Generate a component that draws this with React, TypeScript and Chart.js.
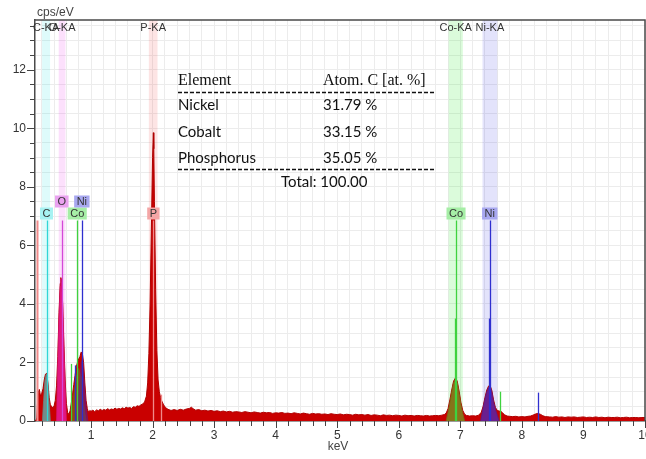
import React, { useEffect, useRef } from "react";
import { Chart, registerables } from "chart.js";
Chart.register(...registerables);

// ---------- spectrum (keV, cps/eV) ----------
const spectrumKeV = [
  0.10, 0.12, 0.13, 0.14, 0.16, 0.18, 0.20, 0.22, 0.24, 0.26, 0.28, 0.30, 0.32, 0.34, 0.36, 0.38, 0.40,
  0.42, 0.44, 0.46, 0.48, 0.50, 0.51, 0.52, 0.54, 0.56, 0.58, 0.60, 0.62, 0.64, 0.66, 0.68, 0.70,
  0.72, 0.74, 0.76, 0.78, 0.80, 0.82, 0.84, 0.86, 0.88, 0.90, 0.92, 0.94, 0.96, 0.98,
  1.00, 1.03, 1.06, 1.09, 1.12, 1.15, 1.18, 1.21, 1.24, 1.27, 1.30, 1.33, 1.36, 1.39, 1.42, 1.45,
  1.48, 1.51, 1.54, 1.57, 1.60, 1.63, 1.66, 1.69, 1.72, 1.75, 1.78, 1.81, 1.84, 1.87, 1.90, 1.92,
  1.94, 1.96, 1.98, 2.00, 2.013, 2.02, 2.03, 2.05, 2.07, 2.09, 2.11, 2.13, 2.15, 2.18, 2.21, 2.25,
  2.30, 2.35, 2.40, 2.45, 2.50, 2.55, 2.60, 2.63, 2.66, 2.70, 2.75, 2.80, 2.85, 2.90, 2.95, 3.00,
  3.05, 3.10, 3.15, 3.20, 3.25, 3.30, 3.35, 3.40, 3.45, 3.50, 3.55, 3.60, 3.65, 3.70, 3.75, 3.80,
  3.85, 3.90, 3.95, 4.00, 4.05, 4.10, 4.15, 4.20, 4.25, 4.30, 4.35, 4.40, 4.45, 4.50, 4.55, 4.60,
  4.65, 4.70, 4.75, 4.80, 4.85, 4.90, 4.95, 5.00, 5.05, 5.10, 5.15, 5.20, 5.25, 5.30, 5.35, 5.40,
  5.45, 5.50, 5.55, 5.60, 5.65, 5.70, 5.75, 5.80, 5.85, 5.90, 5.95, 6.00, 6.05, 6.10, 6.15, 6.20,
  6.25, 6.30, 6.35, 6.40, 6.45, 6.50, 6.55, 6.60, 6.65, 6.70, 6.74, 6.77, 6.80, 6.83, 6.86, 6.89,
  6.92, 6.95, 6.98, 7.01, 7.04, 7.07, 7.10, 7.15, 7.20, 7.25, 7.30, 7.34, 7.37, 7.40, 7.43, 7.46,
  7.48, 7.51, 7.54, 7.57, 7.60, 7.63, 7.66, 7.69, 7.72, 7.76, 7.80, 7.85, 7.90, 7.95, 8.00, 8.05,
  8.10, 8.14, 8.18, 8.22, 8.26, 8.30, 8.34, 8.38, 8.45, 8.50, 8.55, 8.60, 8.65, 8.70, 8.75, 8.80,
  8.85, 8.90, 8.95, 9.00, 9.05, 9.10, 9.15, 9.20, 9.25, 9.30, 9.35, 9.40, 9.45, 9.50, 9.55, 9.60,
  9.65, 9.70, 9.75, 9.80, 9.85, 9.90, 9.95, 10.00,
];
const spectrumCps = [
  0.00, 0.10, 0.60, 0.95, 1.08, 0.85, 0.95, 1.10, 1.40, 1.60, 1.63, 1.30, 0.80, 0.55, 0.50, 0.44, 0.52,
  0.70, 1.20, 2.20, 3.70, 4.70, 4.90, 4.80, 4.00, 2.60, 1.40, 0.60, 0.30, 0.22, 0.35, 0.62, 0.92,
  1.25, 1.55, 1.85, 2.00, 2.12, 2.20, 2.36, 2.30, 2.00, 1.30, 0.70, 0.42, 0.30, 0.36,
  0.33, 0.37, 0.32, 0.38, 0.35, 0.40, 0.36, 0.39, 0.37, 0.42, 0.38, 0.41, 0.39, 0.44, 0.40, 0.43,
  0.41, 0.45, 0.42, 0.47, 0.44, 0.46, 0.43, 0.49, 0.47, 0.52, 0.50, 0.55, 0.58, 0.65, 0.85, 1.30,
  2.30, 4.00, 6.50, 9.00, 9.85, 9.30, 7.50, 4.50, 2.40, 1.40, 1.00, 0.80, 0.68, 0.55, 0.46, 0.40,
  0.36, 0.39, 0.36, 0.40, 0.37, 0.41, 0.43, 0.47, 0.42, 0.37, 0.39, 0.35, 0.37, 0.34, 0.36, 0.33,
  0.35, 0.32, 0.34, 0.31, 0.33, 0.30, 0.32, 0.31, 0.29, 0.32, 0.30, 0.28, 0.31, 0.29, 0.27, 0.30,
  0.28, 0.29, 0.26, 0.28, 0.27, 0.29, 0.26, 0.27, 0.25, 0.28, 0.26, 0.24, 0.27, 0.25, 0.23, 0.26,
  0.24, 0.25, 0.23, 0.24, 0.22, 0.25, 0.23, 0.22, 0.24, 0.21, 0.23, 0.22, 0.20, 0.23, 0.21, 0.22,
  0.20, 0.22, 0.19, 0.21, 0.20, 0.18, 0.21, 0.19, 0.20, 0.18, 0.20, 0.19, 0.17, 0.20, 0.18, 0.19,
  0.17, 0.19, 0.18, 0.17, 0.19, 0.17, 0.18, 0.19, 0.18, 0.20, 0.22, 0.27, 0.42, 0.72, 1.06, 1.36,
  1.47, 1.36, 1.02, 0.62, 0.36, 0.23, 0.19, 0.17, 0.18, 0.17, 0.20, 0.30, 0.50, 0.80, 1.06, 1.20,
  1.23, 1.06, 0.72, 0.46, 0.36, 0.34, 0.33, 0.27, 0.21, 0.17, 0.16, 0.15, 0.16, 0.14, 0.15, 0.14,
  0.16, 0.17, 0.20, 0.24, 0.26, 0.23, 0.18, 0.15, 0.14, 0.13, 0.15, 0.13, 0.14, 0.12, 0.14, 0.13,
  0.14, 0.12, 0.13, 0.14, 0.12, 0.13, 0.12, 0.14, 0.12, 0.13, 0.11, 0.13, 0.12, 0.12, 0.13, 0.11,
  0.12, 0.13, 0.11, 0.12, 0.12, 0.11, 0.12, 0.12,
];

// ---------- element contributions (deconvolved peaks) ----------
const cPeakKeV = [0.21, 0.23, 0.25, 0.27, 0.28, 0.30, 0.32, 0.34];
const cPeakCps = [0.0, 0.7, 1.35, 1.58, 1.60, 1.22, 0.60, 0.0];
const oPeakKeV = [0.44, 0.46, 0.48, 0.50, 0.51, 0.52, 0.54, 0.56, 0.58, 0.60];
const oPeakCps = [0.0, 1.9, 3.5, 4.6, 4.85, 4.75, 3.9, 2.4, 1.2, 0.0];
const coLKeV = [0.68, 0.72, 0.76, 0.80, 0.84, 0.88, 0.92];
const coLCps = [0.0, 0.9, 1.5, 1.8, 1.5, 0.6, 0.0];
const niLKeV = [0.76, 0.80, 0.84, 0.86, 0.88, 0.92, 0.95];
const niLCps = [0.0, 0.9, 2.0, 2.1, 1.6, 0.5, 0.0];
const coKaKeV = [6.77, 6.80, 6.83, 6.86, 6.89, 6.92, 6.95, 6.98, 7.01, 7.04, 7.07];
const coKaCps = [0.0, 0.3, 0.62, 1.0, 1.3, 1.42, 1.3, 0.95, 0.55, 0.25, 0.0];
const niKaKeV = [7.33, 7.37, 7.40, 7.43, 7.46, 7.48, 7.51, 7.54, 7.57, 7.60, 7.63];
const niKaCps = [0.0, 0.45, 0.75, 1.0, 1.15, 1.18, 1.0, 0.65, 0.4, 0.2, 0.0];

// ---------- element marker lines ----------
const markerKeV = [0.12, 0.277, 0.525, 0.678, 0.743, 0.776, 0.851, 2.013, 2.139, 6.915, 6.930, 7.649, 7.461, 7.478, 8.265];
const markerHeight = [6.85, 6.85, 6.85, 1.95, 1.9, 6.85, 6.85, 6.85, 0.9, 3.5, 6.85, 1.0, 3.5, 6.85, 0.97];
const markerElement = ["P", "C", "O", "Co", "Ni", "Co", "Ni", "P", "P", "Co", "Co", "Co", "Ni", "Ni", "Ni"];
const markerLabel = ["", "C", "O", "", "", "Co", "Ni", "P", "", "", "Co", "", "", "Ni", ""];
const markerRow = [0, 0, 1, 0, 0, 0, 1, 0, 0, 0, 0, 0, 0, 0, 0];

// ---------- ROI bands ----------
const bandNames = ["C-KA", "O-KA", "P-KA", "Co-KA", "Ni-KA"];
const bandElement = ["C", "O", "P", "Co", "Ni"];
const bandLo = [0.205, 0.475, 1.94, 6.81, 7.36];
const bandHi = [0.335, 0.585, 2.08, 7.04, 7.60];

// ---------- quantification table ----------
const tableHeader = ["Element", "Atom. C [at. %]"];
const tableElements = ["Nickel", "Cobalt", "Phosphorus"];
const tableAtomPct = ["31.79 %", "33.15 %", "35.05 %"];
const tableTotal = "Total: 100.00";

const lineColor: Record<string, string> = { C: "#2fd6d6", O: "#d448d8", P: "#f08a8a", Co: "#3fd23f", Ni: "#2f2fcf" };
const boxColor: Record<string, string> = { C: "#a6f2f2", O: "#eaa2f0", P: "#f4a6a6", Co: "#a6eea6", Ni: "#a8a8f0" };
const bandColor: Record<string, string> = {
  C: "rgba(0,225,225,0.13)",
  O: "rgba(230,0,230,0.12)",
  P: "rgba(240,50,50,0.13)",
  Co: "rgba(40,230,40,0.17)",
  Ni: "rgba(70,70,230,0.15)",
};

const SANS = '"Liberation Sans", Arial, sans-serif';

const pts = (xs: number[], ys: number[]) => xs.map((v, i) => ({ x: v, y: ys[i] }));

const edsPlugin = {
  id: "eds",
  beforeDatasetsDraw(chart: any) {
    const { ctx, chartArea: a, scales } = chart;
    const x = scales.x;
    ctx.save();
    ctx.beginPath();
    ctx.rect(a.left, a.top, a.right - a.left, a.bottom - a.top);
    ctx.clip();
    bandNames.forEach((_, i) => {
      const l = x.getPixelForValue(bandLo[i]);
      const r = x.getPixelForValue(bandHi[i]);
      ctx.fillStyle = bandColor[bandElement[i]];
      ctx.fillRect(l, a.top, r - l, a.bottom - a.top);
    });
    ctx.restore();
  },
  afterDatasetsDraw(chart: any) {
    const { ctx, chartArea: a, scales } = chart;
    const x = scales.x;
    const y = scales.y;
    ctx.save();
    ctx.beginPath();
    ctx.rect(a.left, a.top, a.right - a.left, a.bottom - a.top);
    ctx.clip();
    const y0 = y.getPixelForValue(0);
    markerKeV.forEach((k, i) => {
      const px = Math.round(x.getPixelForValue(k)) + 0.5;
      ctx.strokeStyle = lineColor[markerElement[i]];
      ctx.lineWidth = i === 0 ? 2 : 1.3;
      ctx.beginPath();
      ctx.moveTo(px, y0);
      ctx.lineTo(px, y.getPixelForValue(markerHeight[i]));
      ctx.stroke();
    });
    ctx.font = `11px ${SANS}`;
    ctx.textAlign = "center";
    ctx.textBaseline = "middle";
    markerKeV.forEach((k, i) => {
      const lab = markerLabel[i];
      if (!lab) return;
      const px = x.getPixelForValue(k);
      const top = y.getPixelForValue(markerHeight[i]);
      const h = 12;
      const bottom = top - 1 - markerRow[i] * h;
      const w = ctx.measureText(lab).width + 5;
      ctx.fillStyle = boxColor[markerElement[i]];
      ctx.fillRect(px - w / 2, bottom - h, w, h);
      ctx.fillStyle = "#333";
      ctx.fillText(lab, px, bottom - h / 2 + 0.5);
    });
    ctx.restore();
  },
  afterDraw(chart: any) {
    const { ctx, chartArea: a, scales } = chart;
    const x = scales.x;
    const y = scales.y;
    ctx.save();
    // frame top & right
    ctx.strokeStyle = "#4a4a4a";
    ctx.lineWidth = 1.5;
    ctx.beginPath();
    ctx.moveTo(a.left, a.top);
    ctx.lineTo(a.right, a.top);
    ctx.lineTo(a.right, a.bottom);
    ctx.stroke();
    // tick marks
    ctx.strokeStyle = "#444";
    ctx.lineWidth = 1;
    x.ticks.forEach((t: any) => {
      const v = t.value;
      const major = Math.abs(v - Math.round(v)) < 1e-6;
      const px = Math.round(x.getPixelForValue(v)) + 0.5;
      ctx.beginPath();
      ctx.moveTo(px, a.bottom);
      ctx.lineTo(px, a.bottom + (major ? 7 : 5));
      ctx.stroke();
    });
    y.ticks.forEach((t: any) => {
      const v = t.value;
      const major = Math.abs(v / 2 - Math.round(v / 2)) < 1e-6;
      const py = Math.round(y.getPixelForValue(v)) + 0.5;
      ctx.beginPath();
      ctx.moveTo(a.left, py);
      ctx.lineTo(a.left - (major ? 8 : 5), py);
      ctx.stroke();
    });
    // band labels
    ctx.fillStyle = "#333";
    ctx.font = `11px ${SANS}`;
    ctx.textAlign = "center";
    ctx.textBaseline = "middle";
    bandNames.forEach((n, i) => {
      ctx.fillText(n, x.getPixelForValue((bandLo[i] + bandHi[i]) / 2), a.top + 8);
    });
    // axis titles
    ctx.font = `12px ${SANS}`;
    ctx.fillStyle = "#444";
    ctx.textAlign = "left";
    ctx.fillText("cps/eV", a.left + 2, 13);
    ctx.textAlign = "center";
    ctx.fillText("keV", 338, 447);
    // table
    const L = 178;
    const C2 = 323;
    ctx.fillStyle = "#111";
    ctx.textAlign = "left";
    ctx.textBaseline = "alphabetic";
    ctx.font = `16px "Liberation Serif", "Times New Roman", serif`;
    ctx.fillText(tableHeader[0], L, 85);
    ctx.fillText(tableHeader[1], C2, 85);
    ctx.strokeStyle = "#111";
    ctx.lineWidth = 1.5;
    ctx.setLineDash([4, 2]);
    ctx.beginPath();
    ctx.moveTo(L, 92.5);
    ctx.lineTo(436, 92.5);
    ctx.moveTo(L, 169.5);
    ctx.lineTo(436, 169.5);
    ctx.stroke();
    ctx.setLineDash([]);
    ctx.font = `15px Lato, "Open Sans", sans-serif`;
    tableElements.forEach((e, i) => {
      const by = 110 + i * 26.5;
      ctx.fillText(e, L, by);
      ctx.fillText(tableAtomPct[i], C2, by);
    });
    ctx.fillText(tableTotal, 281, 187);
    ctx.restore();
  },
};

export default function App() {
  const ref = useRef<HTMLCanvasElement | null>(null);
  useEffect(() => {
    document.body.style.margin = "0";
    document.body.style.overflow = "hidden";
    const canvas = ref.current!;
    const chart = new Chart(canvas, {
      type: "line",
      data: {
        datasets: [
          { data: pts(cPeakKeV, cPeakCps), backgroundColor: "#758c89", borderColor: "#6c8582", borderWidth: 0.8, fill: "origin", pointRadius: 0, order: 1 },
          { data: pts(oPeakKeV, oPeakCps), backgroundColor: "#e2177f", borderColor: "#d8147a", borderWidth: 0.8, fill: "origin", pointRadius: 0, order: 1 },
          { data: pts(coLKeV, coLCps), backgroundColor: "rgba(120,110,20,0.7)", borderColor: "rgba(120,110,20,0.7)", borderWidth: 0.8, fill: "origin", pointRadius: 0, order: 2 },
          { data: pts(niLKeV, niLCps), backgroundColor: "rgba(90,30,150,0.55)", borderColor: "rgba(90,30,150,0.55)", borderWidth: 0.8, fill: "origin", pointRadius: 0, order: 1 },
          { data: pts(coKaKeV, coKaCps), backgroundColor: "#86741a", borderColor: "#7c6a14", borderWidth: 0.8, fill: "origin", pointRadius: 0, order: 1 },
          { data: pts(niKaKeV, niKaCps), backgroundColor: "#6a1f8f", borderColor: "#5e1a86", borderWidth: 0.8, fill: "origin", pointRadius: 0, order: 1 },
          { data: pts(spectrumKeV, spectrumCps), backgroundColor: "#c90000", borderColor: "#b00000", borderWidth: 1, fill: "origin", pointRadius: 0, order: 10 },
        ],
      },
      options: {
        animation: false,
        responsive: false,
        events: [],
        layout: { padding: { top: 20, right: 1, left: 0, bottom: 0 } },
        plugins: { legend: { display: false }, tooltip: { enabled: false } },
        scales: {
          x: {
            type: "linear",
            min: 0.09,
            max: 10,
            afterFit: (s: any) => { s.height = 38; s.paddingLeft = 0; s.paddingRight = 0; },
            grid: { color: "#ececec", lineWidth: 1, drawTicks: false },
            border: { display: true, color: "#4a4a4a", width: 1.5 },
            ticks: {
              stepSize: 0.2,
              includeBounds: false,
              autoSkip: false,
              maxRotation: 0,
              padding: 7,
              color: "#333",
              font: { family: SANS, size: 12 },
              callback: (v: any) => {
                const n = Number(v);
                return Math.abs(n - Math.round(n)) < 1e-6 && n >= 1 ? String(Math.round(n)) : "";
              },
            },
          },
          y: {
            min: 0,
            max: 13.7,
            afterFit: (s: any) => { s.width = 35; s.paddingTop = 0; s.paddingBottom = 0; },
            grid: { color: "#ececec", lineWidth: 1, drawTicks: false },
            border: { display: true, color: "#4a4a4a", width: 1.5 },
            ticks: {
              stepSize: 0.5,
              includeBounds: false,
              autoSkip: false,
              padding: 9,
              color: "#333",
              font: { family: SANS, size: 12 },
              callback: (v: any) => {
                const n = Number(v);
                return Math.abs(n / 2 - Math.round(n / 2)) < 1e-6 ? String(Math.round(n)) : "";
              },
            },
          },
        },
      },
      plugins: [edsPlugin],
    } as any);
    return () => chart.destroy();
  }, []);
  return (
    <div style={{ width: 646, height: 459, background: "#fff" }}>
      <canvas ref={ref} width={646} height={459} style={{ display: "block" }} />
    </div>
  );
}
